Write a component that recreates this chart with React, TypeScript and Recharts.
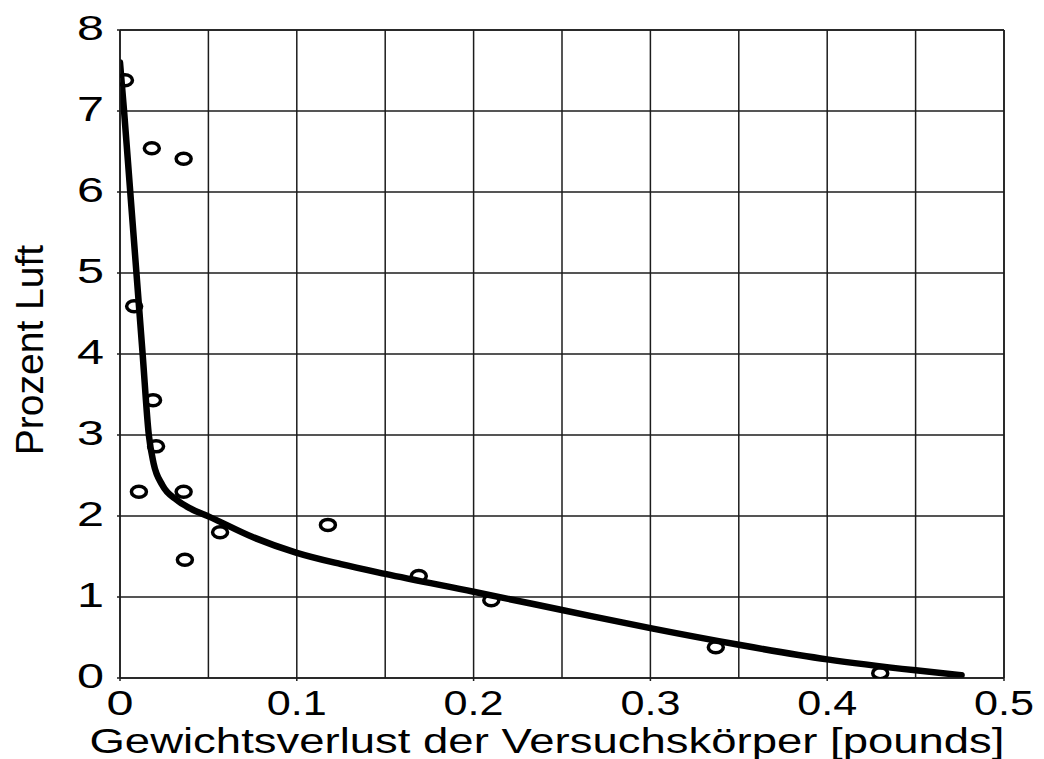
import React from 'react';
import { ComposedChart, Line, Scatter, XAxis, YAxis, CartesianGrid, ReferenceLine } from 'recharts';

// measured points (circles)
const pointX = [0.0028, 0.018, 0.036, 0.008, 0.0187, 0.0204, 0.0107, 0.036, 0.0566, 0.0367, 0.1176, 0.169, 0.21, 0.337, 0.43];
const pointY = [7.38, 6.54, 6.41, 4.59, 3.43, 2.86, 2.3, 2.3, 1.8, 1.46, 1.89, 1.26, 0.96, 0.38, 0.06];

// fitted curve
const curveX = [0, 0.0023, 0.0058, 0.0093, 0.0128, 0.0163, 0.019, 0.024, 0.032, 0.04, 0.05, 0.075, 0.1, 0.125, 0.15, 0.2, 0.25, 0.3, 0.35, 0.4, 0.45, 0.476];
const curveY = [7.6, 7.0, 6.0, 5.0, 4.0, 3.0, 2.65, 2.38, 2.2, 2.09, 1.995, 1.74, 1.545, 1.405, 1.285, 1.065, 0.84, 0.615, 0.41, 0.23, 0.095, 0.035];

const xTicks = [0, 0.05, 0.1, 0.15, 0.2, 0.25, 0.3, 0.35, 0.4, 0.45, 0.5];
const xTickLabels = ['0', '', '0.1', '', '0.2', '', '0.3', '', '0.4', '', '0.5'];
const yTicks = [0, 1, 2, 3, 4, 5, 6, 7, 8];
const yTickLabels = ['0', '1', '2', '3', '4', '5', '6', '7', '8'];

const xTitle = 'Gewichtsverlust der Versuchskörper [pounds]';
const yTitle = 'Prozent Luft';

const points = pointX.map((x, i) => ({ x, y: pointY[i] }));
const curve = curveX.map((x, i) => ({ x, y: curveY[i] }));

const FONT = '"Liberation Sans", Arial, Helvetica, sans-serif';
const INK = '#1c1c1c';

const XTick = (props: any) => {
  const { x, y, payload } = props;
  const idx = xTicks.findIndex((t) => Math.abs(t - payload.value) < 1e-9);
  const label = xTickLabels[idx];
  if (!label) return null;
  return (
    <g>
      <line x1={x} x2={x} y1={y - 3} y2={y} stroke={INK} strokeWidth={1.5} />
      <text
        x={x}
        y={y + 34}
        textAnchor="middle"
        fontFamily={FONT}
        fontSize={35}
        fill="#000"
        textLength={label.length > 1 ? 60 : 27}
        lengthAdjust="spacingAndGlyphs"
      >
        {label}
      </text>
    </g>
  );
};

const YTick = (props: any) => {
  const { x, y, payload } = props;
  const idx = yTicks.findIndex((t) => Math.abs(t - payload.value) < 1e-9);
  const label = yTickLabels[idx];
  return (
    <text
      x={x}
      y={y + 10}
      textAnchor="end"
      fontFamily={FONT}
      fontSize={35}
      fill="#000"
      textLength={27}
      lengthAdjust="spacingAndGlyphs"
    >
      {label}
    </text>
  );
};

const XTitle = (props: any) => {
  const vb = props.viewBox || { x: 120, y: 678, width: 884, height: 81 };
  return (
    <text
      x={vb.x + vb.width / 2 - 15}
      y={vb.y + 75}
      textAnchor="middle"
      fontFamily={FONT}
      fontSize={35}
      fill="#000"
      textLength={915}
      lengthAdjust="spacingAndGlyphs"
    >
      {xTitle}
    </text>
  );
};

const YTitle = (props: any) => {
  const vb = props.viewBox || { x: 0, y: 30, width: 120, height: 648 };
  const cx = 43;
  const cy = vb.y + vb.height / 2 - 4;
  return (
    <text
      x={cx}
      y={cy}
      transform={`rotate(-90 ${cx} ${cy})`}
      textAnchor="middle"
      fontFamily={FONT}
      fontSize={39}
      fill="#000"
    >
      {yTitle}
    </text>
  );
};

const Ring = (props: any) => {
  const { cx, cy } = props;
  if (cx == null || cy == null) return null;
  return <ellipse cx={cx} cy={cy} rx={7.5} ry={5.5} fill="none" stroke="#000" strokeWidth={3.5} />;
};

export default function App() {
  return (
    <div style={{ position: 'absolute', left: 0, top: 0, width: 1044, height: 759, background: '#fff' }}>
      <ComposedChart width={1044} height={759} margin={{ top: 30, right: 40, left: 0, bottom: 0 }}>
        <CartesianGrid stroke={INK} strokeWidth={1.5} />
        <XAxis
          type="number"
          dataKey="x"
          domain={[0, 0.5]}
          ticks={xTicks}
          interval={0}
          height={81}
          tickSize={3}
          tickMargin={0}
          tickLine={false}
          axisLine={{ stroke: INK, strokeWidth: 1.5 }}
          tick={<XTick />}
          allowDataOverflow
          label={<XTitle />}
        />
        <YAxis
          type="number"
          dataKey="y"
          domain={[0, 8]}
          ticks={yTicks}
          interval={0}
          width={120}
          tickSize={3}
          tickMargin={13}
          tickLine={{ stroke: INK, strokeWidth: 1.5 }}
          axisLine={{ stroke: INK, strokeWidth: 1.5 }}
          tick={<YTick />}
          allowDataOverflow
          label={<YTitle />}
        />
        <ReferenceLine x={0.5} stroke={INK} strokeWidth={1.5} />
        <ReferenceLine y={8} stroke={INK} strokeWidth={1.5} />
        <Line
          data={curve}
          dataKey="y"
          type="monotone"
          stroke="#000"
          strokeWidth={6.5}
          strokeLinecap="round"
          dot={false}
          activeDot={false}
          isAnimationActive={false}
        />
        <Scatter data={points} dataKey="y" shape={<Ring />} isAnimationActive={false} />
      </ComposedChart>
    </div>
  );
}
